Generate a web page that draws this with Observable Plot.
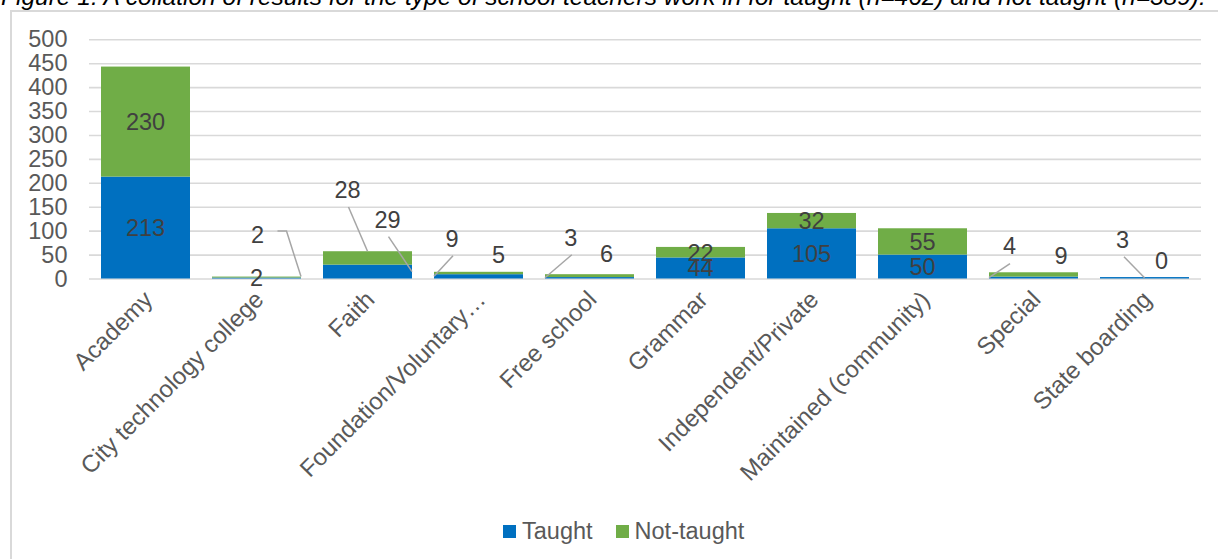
<!DOCTYPE html>
<html>
<head>
<meta charset="utf-8">
<script src="https://cdn.jsdelivr.net/npm/d3@7"></script>
<script src="https://cdn.jsdelivr.net/npm/@observablehq/plot@0.6"></script>
<style>
  html, body { margin: 0; padding: 0; background: #fff; }
  body { font-family: "Liberation Sans", Arial, sans-serif; overflow: hidden; }
  #page { position: relative; width: 1218px; height: 559px; overflow: hidden; }
  #title { position: absolute; left: 1px; top: -15px; font-style: italic; font-size: 24.5px; line-height: 24.5px; white-space: nowrap; color: #000; }
  #frame { position: absolute; left: 10px; top: 10px; width: 1300px; height: 700px; border: 2px solid #d9d9d9; box-sizing: border-box; }
  #chart { position: absolute; left: 0; top: 0; }
  #legend { position: absolute; left: 503px; top: 518px; display: flex; align-items: center; font-size: 23.5px; color: #595959; }
  #legend .item { display: flex; align-items: center; margin-right: 23px; }
  #legend .swatch { width: 13px; height: 13px; margin-right: 6px; }
</style>
</head>
<body>
<div id="page">
  <div id="title">Figure 1: A collation of results for the type of school teachers work in for taught (n=462) and not taught (n=389).</div>
  <div id="frame"></div>
  <div id="chart"></div>
  <div id="legend"></div>
</div>
<script>
// School types and head counts for each group
const categories = [
  "Academy",
  "City technology college",
  "Faith",
  "Foundation/Voluntary…",
  "Free school",
  "Grammar",
  "Independent/Private",
  "Maintained (community)",
  "Special",
  "State boarding"
];
const taught    = [213, 2, 29, 9, 3, 44, 105, 50, 4, 3];
const notTaught = [230, 2, 28, 5, 6, 22, 32, 55, 9, 0];
const series = ["Taught", "Not-taught"];
const yTicks = [0, 50, 100, 150, 200, 250, 300, 350, 400, 450, 500];

const colors = ["#0070C0", "#70AD47"];

// Long table for the stacked bars (taught at the bottom)
const rows = categories.flatMap((c, i) => [
  {category: c, series: "Taught", value: taught[i], base: 0},
  {category: c, series: "Not-taught", value: notTaught[i], base: taught[i]}
]);

// Labels that sit away from their segment centre (pixel offsets),
// with optional leader lines: points relative to the label, ending at
// a spot on the bar [fraction across the bar, "top" | "mid" of segment].
const shiftedLabels = [
  {category: "City technology college", series: "Not-taught", dx: 1, dy: -43, leader: [[20, -3], [29, -3]], anchor: [1, "top"]},
  {category: "Faith", series: "Not-taught", dx: -20, dy: -68, leader: [[1, 17]], anchor: [0.5, "top"]},
  {category: "Faith", series: "Taught", dx: 20, dy: -52, leader: [[1, 17]], anchor: [1, "mid"]},
  {category: "Foundation/Voluntary…", series: "Taught", dx: -26.5, dy: -37.5, leader: [[1, 17]], anchor: [0, "mid"]},
  {category: "Foundation/Voluntary…", series: "Not-taught", dx: 20, dy: -18},
  {category: "Free school", series: "Taught", dx: -18.7, dy: -40, leader: [[1, 17]], anchor: [0, "mid"]},
  {category: "Free school", series: "Not-taught", dx: 17, dy: -22},
  {category: "Special", series: "Taught", dx: -24, dy: -32, leader: [[0.5, 18]], anchor: [0, "mid"]},
  {category: "Special", series: "Not-taught", dx: 27.5, dy: -19},
  {category: "State boarding", series: "Taught", dx: -22, dy: -38, leader: [[1.5, 17]], anchor: [0.5, "mid"]},
  {category: "State boarding", series: "Not-taught", dx: 17, dy: -17}
];

// Value labels and leader lines, positioned with the plot's scales
function valueLabels(index, scales) {
  const x = scales.x, y = scales.y;
  const bw = x.bandwidth ? x.bandwidth() : 0;
  const g = d3.create("svg:g");
  for (const r of rows) {
    const left = x(r.category);
    const cx = left + bw / 2;
    const midY = y(r.base + r.value / 2);
    const topY = y(r.base + r.value);
    const s = shiftedLabels.find(d => d.category === r.category && d.series === r.series);
    const lx = cx + (s ? s.dx : 0);
    const ly = midY + (s ? s.dy : 0);
    if (s && s.leader) {
      const pts = s.leader.map(([px, py]) => [lx + px, ly + py]);
      pts.push([left + bw * s.anchor[0], s.anchor[1] === "top" ? topY : midY]);
      g.append("path")
        .attr("d", d3.line()(pts))
        .attr("fill", "none")
        .attr("stroke", "#a6a6a6")
        .attr("stroke-width", 1.5);
    }
    g.append("text")
      .attr("x", lx)
      .attr("y", ly)
      .attr("dy", "0.36em")
      .attr("text-anchor", "middle")
      .attr("fill", "#404040")
      .attr("font-size", 23.5)
      .text(r.value);
  }
  return g.node();
}

const chart = Plot.plot({
  width: 1218,
  height: 505,
  marginLeft: 89,
  marginRight: 17,
  marginTop: 39.3,
  marginBottom: 226.5,
  style: {fontFamily: "'Liberation Sans', Arial, sans-serif", background: "transparent", overflow: "visible"},
  x: {domain: categories, paddingInner: 0.2, paddingOuter: 0.1, axis: null},
  y: {domain: [0, 500], axis: null},
  color: {domain: series, range: colors},
  marks: [
    Plot.ruleY(yTicks, {stroke: "#d9d9d9", strokeWidth: 1.6}),
    Plot.text(yTicks, {y: d => d, frameAnchor: "left", textAnchor: "end", dx: -22, fontSize: 23.5, fill: "#595959"}),
    Plot.barY(rows, {x: "category", y: "value", fill: "series"}),
    Plot.text(categories, {x: d => d, y: () => 0, rotate: -45, textAnchor: "end", lineAnchor: "top", dx: -4, dy: 10, fontSize: 24, fill: "#595959"}),
    valueLabels
  ]
});
document.getElementById("chart").append(chart);

// Legend below the plot
const legend = d3.select("#legend");
series.forEach((s, i) => {
  const item = legend.append("div").attr("class", "item");
  item.append("div").attr("class", "swatch").style("background", colors[i]);
  item.append("span").text(s);
});
</script>
</body>
</html>
